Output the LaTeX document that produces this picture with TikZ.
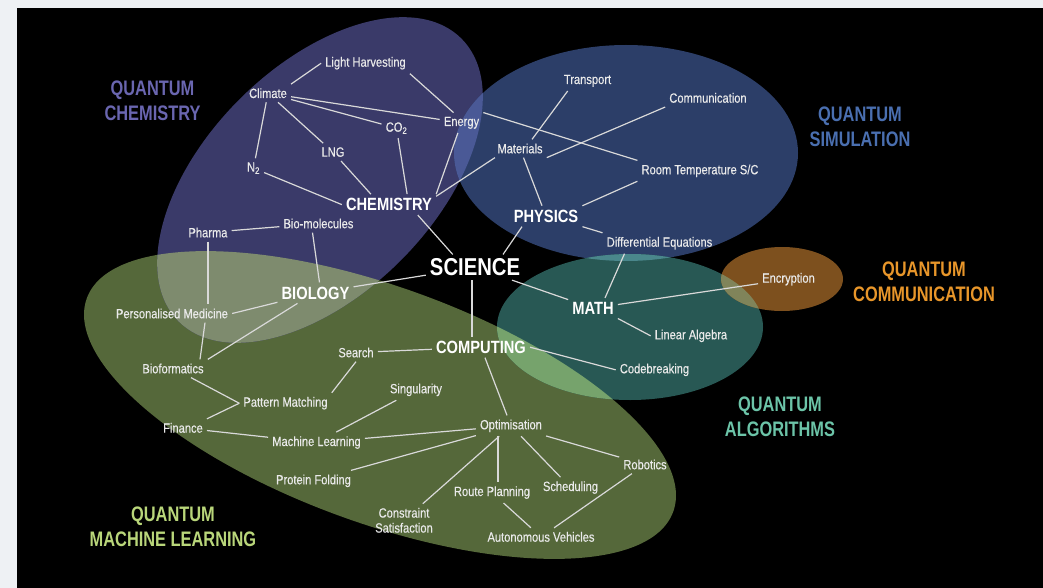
\documentclass[tikz,border=0pt]{standalone}
\usepackage{fontspec}
\setmainfont{Liberation Sans}[FakeStretch=0.83]
\newfontfamily\lblfont{Liberation Sans}[FakeStretch=0.83,FakeBold=0.3]
\newfontfamily\catfont{Liberation Sans}[FakeStretch=0.78]
\usetikzlibrary{calc}
\definecolor{bggray}{HTML}{EEF1F4}
\definecolor{cP}{HTML}{3A3A69}
\definecolor{cB}{HTML}{2C3E68}
\definecolor{cT}{HTML}{285854}
\definecolor{cO}{HTML}{7D501E}
\definecolor{cG}{HTML}{55683A}
\definecolor{cPG}{HTML}{7E8B6E}
\definecolor{cPB}{HTML}{4A5996}
\definecolor{cBT}{HTML}{4A878C}
\definecolor{cGT}{HTML}{76A36C}
\definecolor{cTO}{HTML}{80845A}
\definecolor{lblP}{HTML}{6A66B0}
\definecolor{lblB}{HTML}{4A6FB0}
\definecolor{lblO}{HTML}{E8962A}
\definecolor{lblT}{HTML}{6CC4A8}
\definecolor{lblG}{HTML}{B9D67A}
\definecolor{txt}{HTML}{EAEAEA}
\definecolor{edgec}{HTML}{D9D9D9}
\newcommand\ellG[1]{\path[#1,rotate around={-20:(380,405)}] (380,405) ellipse [x radius=312pt, y radius=118pt];}
\newcommand\ellP[1]{\path[#1,rotate around={45:(320,180)}] (320,180) ellipse [x radius=200pt, y radius=114pt];}
\newcommand\ellB[1]{\path[#1] (626,153) ellipse [x radius=172pt, y radius=108pt];}
\newcommand\ellT[1]{\path[#1] (630,327) ellipse [x radius=133pt, y radius=73pt];}
\newcommand\ellO[1]{\path[#1] (782,279) ellipse [x radius=61pt, y radius=32pt];}
\tikzset{
  lbl/.style={text=txt, font=\lblfont\fontsize{13.4}{15}\selectfont, inner sep=4pt, anchor=base},
  big/.style={text=white, font=\bfseries\fontsize{17.7}{20}\selectfont, inner sep=4pt, anchor=base},
  huge/.style={text=white, font=\bfseries\fontsize{24.4}{28}\selectfont, inner sep=4pt, anchor=base},
  cat/.style={font=\catfont\bfseries\fontsize{21}{25}\selectfont, align=center, anchor=center, inner sep=0pt},
  link/.style={draw=edgec, line width=1.2pt}
}
\begin{document}
\begin{tikzpicture}[x=1pt,y=-1pt]
\useasboundingbox (0,0) rectangle (1043,588);
\fill[bggray] (0,0) rectangle (1043,588);
\fill[black] (17,8) rectangle (1043,588);
% regions
\ellG{fill=cG}
\ellP{fill=cP}
\ellB{fill=cB}
\ellT{fill=cT}
\ellO{fill=cO}
\begin{scope}\ellP{clip}\ellG{fill=cPG}\end{scope}
\begin{scope}\ellP{clip}\ellB{fill=cPB}\end{scope}
\begin{scope}\ellB{clip}\ellT{fill=cBT}\end{scope}
\begin{scope}\ellG{clip}\ellT{fill=cGT}\end{scope}
\begin{scope}\ellT{clip}\ellO{fill=cTO}\end{scope}
% category labels
\node[cat, text=lblP] (qchem) at (152.5,101.2) {QUANTUM\\CHEMISTRY};
\node[cat, text=lblB] (qsim) at (860,126.7) {QUANTUM\\SIMULATION};
\node[cat, text=lblO] (qcomm) at (924,282) {QUANTUM\\COMMUNICATION};
\node[cat, text=lblT] (qalg) at (780,417) {QUANTUM\\ALGORITHMS};
\node[cat, text=lblG] (qml) at (173,526.3) {QUANTUM\\MACHINE LEARNING};
% nodes
\node[lbl] (lh) at (365.5,66.7) {Light Harvesting};
\node[lbl] (climate) at (268,98) {Climate};
\node[lbl] (energy) at (461.5,126) {Energy};
\node[lbl] (co2) at (396.5,131.7) {CO\textsubscript{2}};
\node[lbl] (lng) at (333,156.7) {LNG};
\node[lbl] (n2) at (253.5,171.7) {N\textsubscript{2}};
\node[big] (chem) at (389,210.7) {CHEMISTRY};
\node[lbl] (biomol) at (318.5,228.3) {Bio-molecules};
\node[lbl] (pharma) at (208,237.3) {Pharma};
\node[big] (bio) at (315.5,299) {BIOLOGY};
\node[huge] (sci) at (475,275.7) {SCIENCE};
\node[lbl] (persmed) at (172,318.3) {Personalised Medicine};
\node[lbl] (bioinf) at (173,373.3) {Bioformatics};
\node[lbl] (search) at (356,357.3) {Search};
\node[big] (comp) at (481,353.3) {COMPUTING};
\node[lbl] (pm) at (285.5,406.7) {Pattern Matching};
\node[lbl] (sing) at (416,393.3) {Singularity};
\node[lbl] (fin) at (183,432.7) {Finance};
\node[lbl] (ml) at (316.5,446) {Machine Learning};
\node[lbl] (opt) at (511,429.3) {Optimisation};
\node[lbl] (pf) at (313.5,484.3) {Protein Folding};
\node[lbl] (rob) at (645,469.3) {Robotics};
\node[lbl] (rp) at (492,496) {Route Planning};
\node[lbl] (sched) at (570.5,491) {Scheduling};
\node[lbl, anchor=center, align=center] (cs) at (404,520.3) {Constraint\\Satisfaction};
\node[lbl] (av) at (541,541.7) {Autonomous Vehicles};
\node[lbl] (transport) at (587.5,84) {Transport};
\node[lbl] (comm) at (708,102.7) {Communication};
\node[lbl] (mat) at (520,153.3) {Materials};
\node[lbl] (rt) at (700,174.3) {Room Temperature S/C};
\node[big] (phys) at (546,222.3) {PHYSICS};
\node[lbl] (de) at (659.5,246.7) {Differential Equations};
\node[big] (math) at (593,314.3) {MATH};
\node[lbl] (enc) at (788.5,282.7) {Encryption};
\node[lbl] (la) at (691,339.3) {Linear Algebra};
\node[lbl] (code) at (654.5,373.3) {Codebreaking};
% connectors
\draw[link] (climate.north east) -- (lh.west);
\draw[link] (lh.south east) -- ($(energy.north)+(-8,0)$);
\draw[link] (climate) -- (energy);
\draw[link] (climate) -- (co2);
\draw[link] (climate) -- (lng);
\draw[link] (climate) -- (n2);
\draw[link] (n2) -- (chem.west);
\draw[link] (lng) -- (chem.150);
\draw[link] (co2) -- (chem.30);
\draw[link] (energy) -- (chem.north east);
\draw[link] (chem.10) -- (mat.200);
\draw[link] (chem.-20) -- (sci.150);
\draw[link] (pharma) -- (biomol);
\draw[link] ($(biomol.south)+(-6,0)$) -- ($(bio.north)+(4,0)$);
\draw[link] (pharma) -- (pharma |- persmed.north);
\draw[link] (bio) -- (sci);
\draw[link] ($(sci.south)+(-3,0)$) -- ($(sci.south |- comp.north)+(-3,0)$);
\draw[link] (bio) -- (persmed.east);
\draw[link] ($(bio.south)+(-18,0)$) -- (bioinf.north east);
\draw[link] ($(persmed.south)+(33,0)$) -- ($(bioinf.north)+(27,0)$);
\draw[link] ($(bioinf.south)+(18,0)$) -- (pm.west);
\draw[link] (pm.west) -- (fin.north east);
\draw[link] (pm.north east) -- (search.south);
\draw[link] (search) -- (comp);
\draw[link] (comp) -- (opt);
\draw[link] (comp.east) -- (code.west);
\draw[link] (sing) -- (ml);
\draw[link] (fin) -- (ml);
\draw[link] (ml) -- (opt);
\draw[link] (pf) -- (opt);
\draw[link] (cs) -- (opt);
\draw[link] ($(opt.south)+(-13,0)$) -- ($(opt.south |- rp.north)+(-13,0)$);
\draw[link] (sched) -- (opt);
\draw[link] (rob) -- (opt);
\draw[link] (rp) -- (av);
\draw[link] (rob) -- (av);
\draw[link] (sci) -- (math);
\draw[link] (math) -- (enc);
\draw[link] (math.south east) -- (la.west);
\draw[link] ($(de.south)+(-35,0)$) -- ($(math.north)+(12,0)$);
\draw[link] (phys.south east) -- (de.north west);
\draw[link] ($(phys.south)+(-24,0)$) -- ($(sci.north)+(28,0)$);
\draw[link] (phys.north east) -- (rt.south west);
\draw[link] (mat) -- (phys);
\draw[link] ($(mat.north)+(12,0)$) -- ($(transport.south west)+(8,0)$);
\draw[link] (mat.south east) -- (comm.south west);
\draw[link] (energy.north east) -- (rt.north west);
\end{tikzpicture}
\end{document}
